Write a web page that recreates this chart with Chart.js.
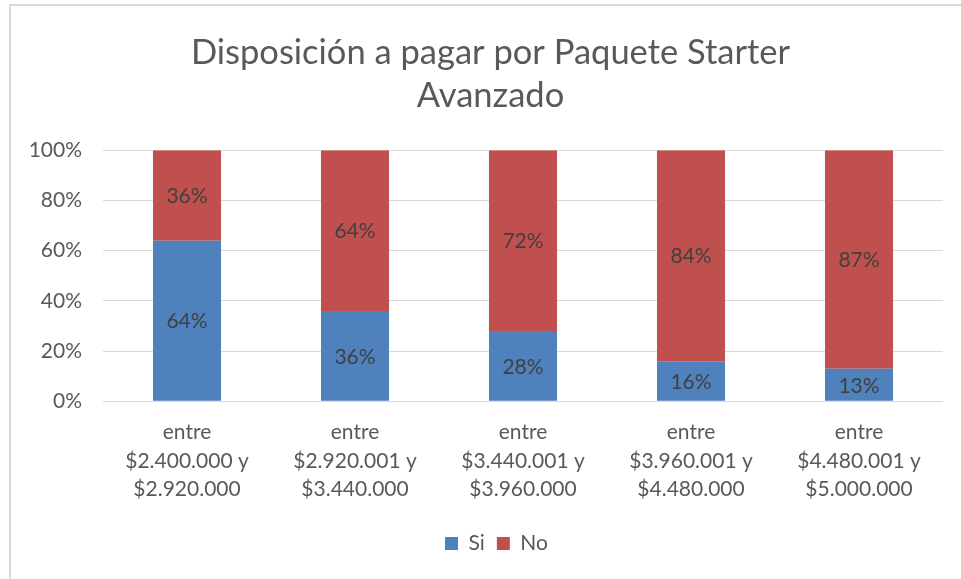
<!DOCTYPE html>
<html>
<head>
<meta charset="utf-8">
<script src="https://cdn.jsdelivr.net/npm/chart.js@4"></script>
<style>
  html, body { margin: 0; padding: 0; background: #fff; }
  #wrap { width: 961px; height: 579px; position: relative; }
</style>
</head>
<body>
<div id="wrap"><canvas id="grafico"></canvas></div>
<script>
// Rangos de precio y porcentajes por respuesta
const rangos = [
  ['entre', '$2.400.000 y', '$2.920.000'],
  ['entre', '$2.920.001 y', '$3.440.000'],
  ['entre', '$3.440.001 y', '$3.960.000'],
  ['entre', '$3.960.001 y', '$4.480.000'],
  ['entre', '$4.480.001 y', '$5.000.000']
];
const si = [64, 36, 28, 16, 13];
const no = [36, 64, 72, 84, 87];
const ticksY = [0, 20, 40, 60, 80, 100];

const fuente = 'Lato, "Open Sans", sans-serif';

// marco gris arriba y a la izquierda
const marco = {
  id: 'marco',
  beforeDraw(chart) {
    const ctx = chart.ctx;
    ctx.save();
    ctx.fillStyle = '#fff';
    ctx.fillRect(0, 0, chart.width, chart.height);
    ctx.strokeStyle = '#d9d9d9';
    ctx.lineWidth = 2;
    ctx.beginPath();
    ctx.moveTo(10, chart.height);
    ctx.lineTo(10, 5);
    ctx.lineTo(chart.width, 5);
    ctx.stroke();
    ctx.restore();
  }
};

// corre el título y la leyenda un poco a la derecha
const desplazar = {
  id: 'desplazar',
  afterLayout(chart) {
    if (chart.titleBlock) chart.titleBlock.left += 38;
    if (chart.legend) chart.legend.left += 50;
  }
};

// etiquetas de porcentaje centradas en cada segmento
const etiquetas = {
  id: 'etiquetas',
  afterDatasetsDraw(chart) {
    const ctx = chart.ctx;
    ctx.save();
    ctx.font = '21px ' + fuente;
    ctx.fillStyle = '#404040';
    ctx.textAlign = 'center';
    ctx.textBaseline = 'middle';
    chart.data.datasets.forEach((ds, i) => {
      chart.getDatasetMeta(i).data.forEach((bar, j) => {
        const y = (bar.y + bar.base) / 2;
        ctx.fillText(ds.data[j] + '%', bar.x, y + 1);
      });
    });
    ctx.restore();
  }
};

new Chart(document.getElementById('grafico'), {
  type: 'bar',
  data: {
    labels: rangos,
    datasets: [
      { label: 'Si', data: si, backgroundColor: '#4F81BD' },
      { label: 'No', data: no, backgroundColor: '#C0504D' }
    ]
  },
  options: {
    responsive: true,
    maintainAspectRatio: false,
    animation: false,
    layout: { padding: { left: 0, right: 18, top: 0, bottom: 15 } },
    datasets: {
      bar: { categoryPercentage: 0.405, barPercentage: 1 }
    },
    scales: {
      x: {
        stacked: true,
        grid: { display: false, drawTicks: false },
        border: { display: false },
        ticks: {
          color: '#595959',
          font: { family: fuente, size: 21, lineHeight: 1.36 },
          padding: 17,
          maxRotation: 0
        }
      },
      y: {
        stacked: true,
        min: 0,
        max: 100,
        afterFit(scale) { scale.width = 103; },
        afterBuildTicks(scale) { scale.ticks = ticksY.map(v => ({ value: v })); },
        grid: { color: '#d9d9d9', drawTicks: false },
        border: { display: false },
        ticks: {
          color: '#595959',
          font: { family: fuente, size: 21 },
          padding: 21,
          callback: v => v + '%'
        }
      }
    },
    plugins: {
      title: {
        display: true,
        text: ['Disposición a pagar por Paquete Starter', 'Avanzado'],
        color: '#595959',
        font: { family: fuente, size: 34.5, weight: 'normal', lineHeight: 1.25 },
        padding: { top: 31, bottom: 33 }
      },
      legend: {
        position: 'bottom',
        labels: {
          color: '#595959',
          font: { family: fuente, size: 21 },
          boxWidth: 13,
          boxHeight: 13,
          padding: 12
        }
      },
      tooltip: { enabled: false }
    }
  },
  plugins: [marco, desplazar, etiquetas]
});
</script>
</body>
</html>
